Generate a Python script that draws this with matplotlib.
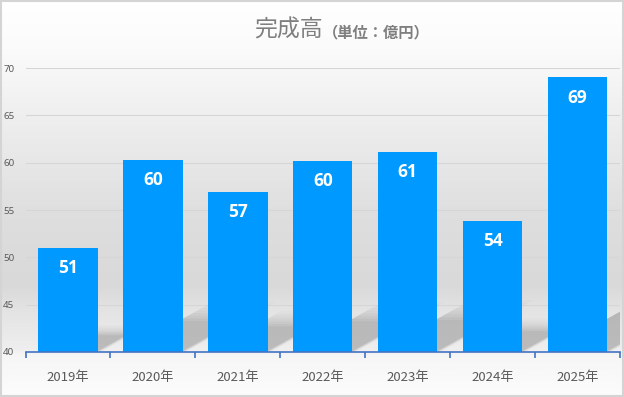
import numpy as np
import matplotlib
matplotlib.use("Agg")
import matplotlib.pyplot as plt
from matplotlib.patches import Polygon, Rectangle
from matplotlib.colors import LinearSegmentedColormap

plt.rcParams['font.family'] = ['Noto Sans CJK JP', 'DejaVu Sans']

categories = ["2019年", "2020年", "2021年", "2022年", "2023年", "2024年", "2025年"]
values = [51.0, 60.3, 56.9, 60.2, 61.1, 53.8, 69.0]
y_ticks = [40, 45, 50, 55, 60, 65, 70]
title_main = "完成高"
title_unit = "（単位：億円）"

W, H = 624, 397
fig = plt.figure(figsize=(W / 100, H / 100), dpi=100)

# background gradient
bg = fig.add_axes([0, 0, 1, 1], zorder=-10)
stops = [(0.0, "#ffffff"), (0.12, "#fbfbfb"), (0.3, "#eeeeee"), (0.55, "#dedede"),
         (0.72, "#d9d9d9"), (0.78, "#e3e3e3"), (0.88, "#eeeeee"), (0.9, "#f6f6f6"), (1.0, "#fcfcfc")]
cmap = LinearSegmentedColormap.from_list("bg", stops)
grad = np.linspace(0, 1, 400).reshape(-1, 1)
bg.imshow(grad, aspect="auto", cmap=cmap, extent=[0, 1, 0, 1], origin="upper")
bg.set_xlim(0, 1)
bg.set_ylim(0, 1)
bg.axis("off")
bg.add_patch(Rectangle((0.002, 0.003), 0.996, 0.994, fill=False, edgecolor="#d4d4d4",
                       lw=1.5, transform=bg.transAxes))

ax = fig.add_axes([25.5 / W, 45 / H, 594.5 / W, 284 / H])
ax.patch.set_alpha(0)
x = np.arange(len(categories))
bar_w = 0.7
ymin, ymax = 40, 70

# soft perspective shadows derived from the bar values
for xi, v in zip(x, values):
    h = 0.2 * (v - ymin)
    dx = 0.04 * (v - ymin)
    for k, a in zip(np.linspace(1.3, 0.8, 8), [0.03, 0.04, 0.05, 0.06, 0.08, 0.1, 0.12, 0.15]):
        hh = h * k
        d = dx * k
        left = xi - bar_w / 2
        right = xi + bar_w / 2 + 0.12 * (k - 1)
        poly = Polygon([(left, ymin), (right, ymin), (right + d, ymin + hh), (left + d, ymin + hh)],
                       closed=True, facecolor="#8c8c8c", edgecolor="none", alpha=a, zorder=1)
        ax.add_patch(poly)

bars = ax.bar(x, values, width=bar_w, color="#0099ff", zorder=3)
for xi, v in zip(x, values):
    ax.annotate(f"{v:.0f}", (xi, v), xytext=(0, -14.5), textcoords="offset points",
                ha="center", va="center", color="white", fontsize=12.5, fontweight="bold",
                family=["Open Sans", "DejaVu Sans"], zorder=5)

ax.set_xlim(-0.5, len(categories) - 0.5)
ax.set_ylim(ymin, ymax)
ax.set_yticks(y_ticks)
ax.set_yticklabels([str(t) for t in y_ticks], fontsize=7, color="#595959",
                   family=["Liberation Sans Narrow", "Noto Sans", "DejaVu Sans"])
ax.tick_params(axis="y", length=0, pad=8)
ax.set_xticks(x)
ax.set_xticklabels(categories, fontsize=9.5, color="#595959")
ax.set_xticks(np.arange(-0.5, len(categories)), minor=True)
ax.tick_params(axis="x", which="major", length=0, pad=14)
ax.tick_params(axis="x", which="minor", length=4, width=1.2, color="#4472c4", direction="out")
ax.grid(axis="y", color="#d6d6d6", lw=0.8, zorder=0)
ax.set_axisbelow(True)
for s in ["left", "right", "top"]:
    ax.spines[s].set_visible(False)
ax.spines["bottom"].set_color("#4472c4")
ax.spines["bottom"].set_linewidth(1.2)
ax.spines["bottom"].set_zorder(6)

fig.text(323 / W, 1 - 30 / H, title_main, ha="right", va="center", fontsize=16.5, color="#7f7f7f")
fig.text(323 / W, 1 - 32 / H, title_unit, ha="left", va="center", fontsize=11, color="#7f7f7f",
         fontweight="bold")

fig.savefig("out.png", dpi=100)
